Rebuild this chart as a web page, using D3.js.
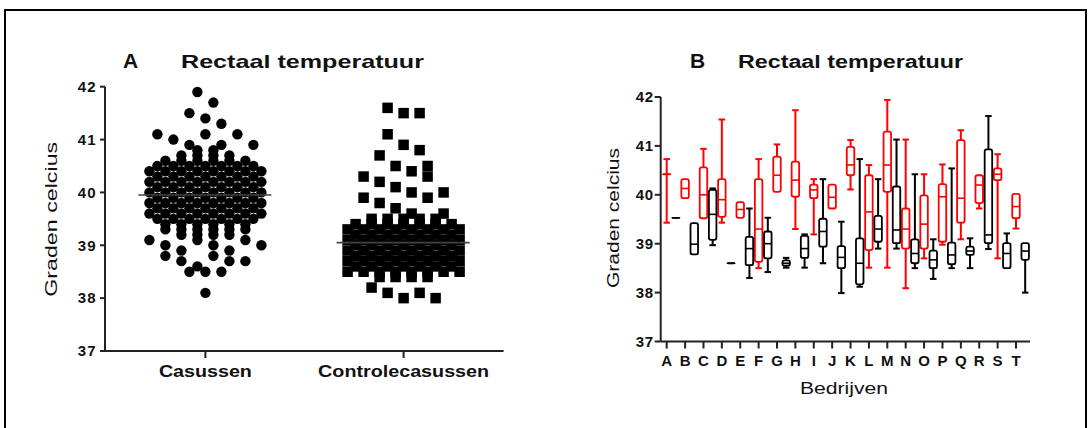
<!DOCTYPE html>
<html><head><meta charset="utf-8">
<script src="https://cdn.jsdelivr.net/npm/d3@7"></script>
<style>
body{margin:0;background:#fff}
svg{display:block}
text{font-family:'Liberation Sans',Arial,Helvetica,sans-serif;fill:#111}
</style>
</head><body>
<svg id="chart" width="1092" height="428"></svg>
<script>
// ---------- Panel A data (column scatter, values at 0.1 °C resolution) ----------
const groupsA = ["Casussen", "Controlecasussen"];
const casussenTemps  = [41.9,41.7,41.5,41.4,41.3,41.1,41.0,40.9,40.8,40.7,40.6,40.5,40.4,40.3,40.2,40.1,40.0,39.9,39.8,39.7,39.6,39.5,39.4,39.3,39.2,39.1,39.0,38.9,38.8,38.7,38.6,38.5,38.1];
const casussenCounts = [1,   1,   1,   1,   1,   3,   1,   3,   2,   4,   6,   7,   8,   7,   8,   7,   8,   7,   8,   7,   8,   7,   6,   6,   4,   3,   3,   2,   2,   3,   1,   3,   1];
const controleTemps  = [41.6,41.5,41.1,40.9,40.8,40.7,40.5,40.4,40.3,40.2,40.1,40.0,39.9,39.8,39.7,39.6,39.5,39.4,39.3,39.2,39.1,39.0,38.9,38.8,38.7,38.6,38.5,38.4,38.2,38.1,38.0];
const controleCounts = [1,   2,   1,   1,   1,   1,   2,   1,   2,   1,   1,   2,   2,   1,   1,   2,   5,   7,   8,   7,   8,   7,   8,   7,   8,   7,   8,   4,   1,   2,   2];
const groupMeans = [39.95, 39.05];
const yTicksA = [37, 38, 39, 40, 41, 42];

// ---------- Panel B data (box & whiskers per bedrijf) ----------
const bedrijven = ["A","B","C","D","E","F","G","H","I","J","K","L","M","N","O","P","Q","R","S","T"];
// cases (red)
const casesMin    = [39.43,39.93,39.52,39.43,39.53,38.50,40.06,39.30,39.19,39.72,40.11,38.51,38.51,38.09,38.70,38.98,39.09,39.72,38.70,39.31];
const casesQ1     = [40.42,39.93,39.52,39.55,39.53,38.63,40.06,39.96,39.93,39.72,40.40,38.87,40.06,38.90,38.90,39.04,39.43,39.83,40.30,39.52];
const casesMedian = [40.42,40.13,40.00,39.90,39.70,39.30,40.40,40.30,40.10,39.95,40.61,39.65,40.61,39.30,39.40,39.96,39.93,40.20,40.42,39.76];
const casesQ3     = [40.42,40.32,40.56,40.32,39.85,40.32,40.78,40.68,40.21,40.21,40.98,40.40,41.29,39.72,39.99,40.22,41.12,40.40,40.54,40.02];
const casesMax    = [40.73,40.32,40.94,41.54,39.85,40.73,41.03,41.73,40.32,40.21,41.12,40.61,41.94,41.13,40.42,40.62,41.32,40.40,40.83,40.02];
// controls (black)
const controlsMin    = [39.53,38.78,38.97,38.60,38.30,38.42,38.51,38.51,38.60,37.99,38.12,38.90,38.90,38.50,38.28,38.50,38.50,38.89,38.50,38.00];
const controlsQ1     = [39.53,38.78,39.08,38.60,38.56,38.70,38.55,38.71,38.94,38.50,38.17,39.04,39.01,38.60,38.50,38.58,38.77,39.01,38.50,38.67];
const controlsMedian = [39.53,38.99,39.60,38.60,38.90,39.00,38.60,38.90,39.25,38.72,38.60,39.30,39.28,38.80,38.67,38.77,38.85,39.18,38.80,38.85];
const controlsQ3     = [39.53,39.42,40.10,38.60,39.14,39.25,38.66,39.16,39.51,38.95,39.11,39.57,40.17,39.09,38.86,39.02,38.94,40.93,39.01,39.01];
const controlsMax    = [39.53,39.42,40.13,38.60,39.72,39.53,38.71,39.19,40.32,39.45,40.73,40.32,41.13,40.42,39.09,40.54,39.11,41.61,39.21,39.01];
const yTicksB = [37, 38, 39, 40, 41, 42];

// ---------- drawing ----------
const svg = d3.select("#chart");
const RED = "#ff0000", BLACK = "#000000";

svg.append("rect").attr("x", 5).attr("y", 10).attr("width", 1081).attr("height", 440)
  .attr("fill", "none").attr("stroke", "#000").attr("stroke-width", 2);

// ===== Panel A =====
const yA = d3.scaleLinear().domain([37, 42]).range([351, 86.7]);
const xA = d3.scalePoint().domain(groupsA).range([205.4, 403.6]);
const axA = { left: 105, right: 503.6 };
const SLOT = 16;

function layoutRows(temps, counts) {
  const map = new Map(temps.map((t, i) => [Math.round(t * 10), counts[i]]));
  const hi = Math.round(d3.max(temps) * 10), lo = Math.round(d3.min(temps) * 10);
  const pts = [];
  let L = hi;
  while (L >= lo) {
    const c0 = map.get(L) || 0;
    if (c0 === 0) { L--; continue; }
    const rows = [[L, c0]]; let total = c0; let next = L - 1;
    if (c0 <= 3) {
      while (next >= lo && L - next <= 3) {
        const c = map.get(next) || 0;
        if (c > 3 || total + c > 8) break;
        if (c) rows.push([next, c]);
        total += c; next--;
      }
    }
    const seq = []; const rem = rows.map(r => r[1]);
    while (seq.length < total) rows.forEach((r, i) => { if (rem[i] > 0) { seq.push(r[0] / 10); rem[i]--; } });
    seq.forEach((v, i) => pts.push({ v, dx: (i - (total - 1) / 2) * SLOT }));
    L = next;
  }
  return pts;
}

const gA = svg.append("g");
gA.append("line").attr("x1", axA.left).attr("x2", axA.left).attr("y1", yA(42)).attr("y2", yA(37))
  .attr("stroke", "#222").attr("stroke-width", 2);
gA.append("line").attr("x1", axA.left).attr("x2", axA.right).attr("y1", yA(37)).attr("y2", yA(37))
  .attr("stroke", "#222").attr("stroke-width", 2);
gA.selectAll(".yt").data(yTicksA).join("line")
  .attr("x1", axA.left - 5).attr("x2", axA.left).attr("y1", d => yA(d)).attr("y2", d => yA(d))
  .attr("stroke", "#222").attr("stroke-width", 2);
gA.selectAll(".ytl").data(yTicksA).join("text")
  .attr("x", 96.5).attr("y", d => yA(d) + 5.3).attr("text-anchor", "end")
  .attr("font-size", 15).attr("font-weight", "bold").attr("letter-spacing", 1).text(d => d);
gA.selectAll(".xt").data(groupsA).join("line")
  .attr("x1", d => xA(d)).attr("x2", d => xA(d)).attr("y1", yA(37)).attr("y2", yA(37) + 7)
  .attr("stroke", "#222").attr("stroke-width", 2);
gA.selectAll(".xtl").data(groupsA).join("text")
  .attr("x", d => xA(d)).attr("y", 376.5).attr("text-anchor", "middle")
  .attr("font-size", 16).attr("font-weight", "bold")
  .attr("textLength", (d, i) => [93, 171][i]).attr("lengthAdjust", "spacingAndGlyphs").text(d => d);
gA.append("text").attr("transform", "translate(57,219.3) rotate(-90)").attr("text-anchor", "middle")
  .attr("font-size", 17).attr("textLength", 155).attr("lengthAdjust", "spacingAndGlyphs").text("Graden celcius");
gA.append("text").attr("x", 123).attr("y", 68).attr("font-size", 21).attr("font-weight", "bold").text("A");
gA.append("text").attr("x", 181).attr("y", 68).attr("font-size", 19).attr("font-weight", "bold")
  .attr("textLength", 243).attr("lengthAdjust", "spacingAndGlyphs").text("Rectaal temperatuur");

const casPts = layoutRows(casussenTemps, casussenCounts);
gA.selectAll(".dot").data(casPts).join("circle")
  .attr("cx", d => xA(groupsA[0]) + d.dx).attr("cy", d => yA(d.v)).attr("r", 5.2).attr("fill", BLACK);
const ctlPts = layoutRows(controleTemps, controleCounts);
const SQ = 10.5;
gA.selectAll(".sq").data(ctlPts).join("rect")
  .attr("x", d => xA(groupsA[1]) + d.dx - SQ / 2).attr("y", d => yA(d.v) - SQ / 2)
  .attr("width", SQ).attr("height", SQ).attr("fill", BLACK);
gA.selectAll(".mean").data(groupMeans).join("line")
  .attr("x1", (d, i) => xA(groupsA[i]) - 67).attr("x2", (d, i) => xA(groupsA[i]) + 66)
  .attr("y1", d => yA(d)).attr("y2", d => yA(d)).attr("stroke", "#444").attr("stroke-width", 1.6);

// ===== Panel B =====
const yB = d3.scaleLinear().domain([37, 42]).range([341.5, 97]);
const xB = d3.scalePoint().domain(bedrijven).range([666.7, 1016]);
const half = xB.step() / 2;
const axB = { left: 660.7, right: 1030 };
const gB = svg.append("g");

gB.append("line").attr("x1", axB.left).attr("x2", axB.left).attr("y1", yB(42)).attr("y2", yB(37))
  .attr("stroke", "#222").attr("stroke-width", 2);
gB.append("line").attr("x1", axB.left).attr("x2", axB.right).attr("y1", yB(37)).attr("y2", yB(37))
  .attr("stroke", "#222").attr("stroke-width", 2);
gB.selectAll(".yt").data(yTicksB).join("line")
  .attr("x1", axB.left - 6).attr("x2", axB.left).attr("y1", d => yB(d)).attr("y2", d => yB(d))
  .attr("stroke", "#222").attr("stroke-width", 2);
gB.selectAll(".ytl").data(yTicksB).join("text")
  .attr("x", 653.5).attr("y", d => yB(d) + 5.3).attr("text-anchor", "end")
  .attr("font-size", 15).attr("font-weight", "bold").attr("letter-spacing", 0.5).text(d => d);
gB.selectAll(".xt").data(bedrijven).join("line")
  .attr("x1", d => xB(d)).attr("x2", d => xB(d)).attr("y1", yB(37)).attr("y2", yB(37) + 7)
  .attr("stroke", "#222").attr("stroke-width", 2);
gB.selectAll(".xtl").data(bedrijven).join("text")
  .attr("x", d => xB(d)).attr("y", 365.5).attr("text-anchor", "middle")
  .attr("font-size", 15).attr("font-weight", "bold").text(d => d);
gB.append("text").attr("x", 844).attr("y", 394).attr("text-anchor", "middle").attr("font-size", 17)
  .attr("textLength", 88).attr("lengthAdjust", "spacingAndGlyphs").text("Bedrijven");
gB.append("text").attr("transform", "translate(619,218) rotate(-90)").attr("text-anchor", "middle")
  .attr("font-size", 16).attr("textLength", 140).attr("lengthAdjust", "spacingAndGlyphs").text("Graden celcius");
gB.append("text").attr("x", 690).attr("y", 68).attr("font-size", 21).attr("font-weight", "bold").text("B");
gB.append("text").attr("x", 738).attr("y", 68).attr("font-size", 18).attr("font-weight", "bold")
  .attr("textLength", 225).attr("lengthAdjust", "spacingAndGlyphs").text("Rectaal temperatuur");

function boxData(mins, q1s, meds, q3s, maxs, off, color) {
  return bedrijven.map((b, i) => ({ b, cx: xB(b) + off, min: mins[i], q1: q1s[i], med: meds[i], q3: q3s[i], max: maxs[i], color }));
}
const boxes = boxData(casesMin, casesQ1, casesMedian, casesQ3, casesMax, 0, RED)
  .concat(boxData(controlsMin, controlsQ1, controlsMedian, controlsQ3, controlsMax, half, BLACK));

const BW = 7.5, CW = 6.5;
const gb = gB.selectAll(".box").data(boxes).join("g");
gb.append("line").attr("x1", d => d.cx).attr("x2", d => d.cx).attr("y1", d => yB(d.max)).attr("y2", d => yB(d.min))
  .attr("stroke", d => d.color).attr("stroke-width", 2);
gb.filter(d => d.max > d.q3).append("line")
  .attr("x1", d => d.cx - CW / 2).attr("x2", d => d.cx + CW / 2).attr("y1", d => yB(d.max)).attr("y2", d => yB(d.max))
  .attr("stroke", d => d.color).attr("stroke-width", 2);
gb.filter(d => d.min < d.q1).append("line")
  .attr("x1", d => d.cx - CW / 2).attr("x2", d => d.cx + CW / 2).attr("y1", d => yB(d.min)).attr("y2", d => yB(d.min))
  .attr("stroke", d => d.color).attr("stroke-width", 2);
gb.append("rect").attr("x", d => d.cx - BW / 2).attr("width", BW)
  .attr("y", d => yB(d.q3)).attr("height", d => Math.max(0.01, yB(d.q1) - yB(d.q3)))
  .attr("rx", 2).attr("fill", "#fff").attr("stroke", d => d.color).attr("stroke-width", 1.8);
gb.append("line").attr("x1", d => d.cx - BW / 2).attr("x2", d => d.cx + BW / 2)
  .attr("y1", d => yB(d.med)).attr("y2", d => yB(d.med))
  .attr("stroke", d => d.color).attr("stroke-width", 1.6);
</script>
</body></html>
